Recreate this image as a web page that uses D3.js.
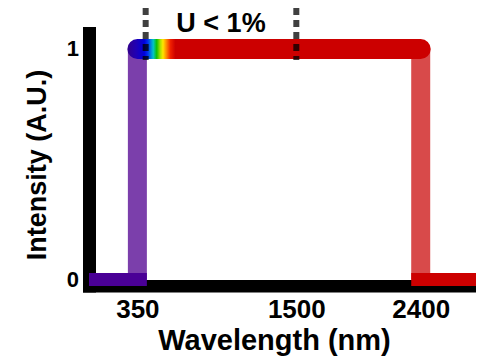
<!DOCTYPE html>
<html>
<head>
<meta charset="utf-8">
<script src="https://cdn.jsdelivr.net/npm/d3@7"></script>
<style>
  html, body { margin: 0; padding: 0; background: #fff; overflow: hidden; }
  svg { display: block; }
  text { font-family: 'Liberation Sans', Arial, sans-serif; font-weight: bold; fill: #000; }
</style>
</head>
<body>
<script>
'use strict';

// spectrum outline (wavelength in nm, normalised intensity)
const wavelengths = [0, 350, 350, 2400, 2400, 2800];
const intensities = [0, 0, 1, 1, 0, 0];
const segmentColors = ['#4a0096', '#7b3fab', 'url(#spectrum)', '#d84a4a', '#cc0000'];

// visible part of the top edge
const gradientNm = [280, 340, 400, 425, 465, 490, 515, 535, 560, 590, 625];
const gradientColors = ['#32008c', '#2000b4', '#0000da', '#0030f0', '#00c4c8', '#10c000', '#a8e000', '#ffe600', '#ff8a00', '#f02000', '#cc0000'];

const xTicks = [350, 1500, 2400];
const yTicks = [0, 1];
const markerNm = [410, 1500];
const markerLabel = 'U < 1%';

const W = 483, H = 359;
const svg = d3.select('body').append('svg').attr('width', W).attr('height', H);

const x = d3.scaleLinear().domain([0, 2800]).range([89, 476]);
const y = d3.scaleLinear().domain([0, 1]).range([279.5, 49]);

const grad = svg.append('defs').append('linearGradient')
    .attr('id', 'spectrum')
    .attr('gradientUnits', 'userSpaceOnUse')
    .attr('x1', x(gradientNm[0])).attr('x2', x(gradientNm[gradientNm.length - 1]))
    .attr('y1', 0).attr('y2', 0);
grad.selectAll('stop').data(gradientNm).enter().append('stop')
    .attr('offset', d => (d - gradientNm[0]) / (gradientNm[gradientNm.length - 1] - gradientNm[0]))
    .attr('stop-color', (d, i) => gradientColors[i]);

// thick black axis bars
svg.append('line')
    .attr('x1', 89.5).attr('x2', 89.5)
    .attr('y1', y(1) - 22).attr('y2', y(0) + 13)
    .attr('stroke', '#000').attr('stroke-width', 13);
svg.append('line')
    .attr('x1', x(0) - 6).attr('x2', x(2800))
    .attr('y1', 286.25).attr('y2', 286.25)
    .attr('stroke', '#000').attr('stroke-width', 12.5);

// segments of the outline
const segs = d3.range(wavelengths.length - 1).map(i => ({
  x1 : wavelengths[i], y1 : intensities[i],
  x2 : wavelengths[i + 1], y2 : intensities[i + 1],
  color : segmentColors[i],
  vertical : wavelengths[i] === wavelengths[i + 1],
  top : intensities[i] === 1 && intensities[i + 1] === 1
}));
const vw = 19; // width of the vertical edges

function drawSeg(sel) {
  // bottom pieces reach under the vertical edges
  sel.append('line')
      .attr('x1', d => x(d.x1) + (!d.vertical && !d.top && d.x1 > 0 ? -vw / 2 : 0))
      .attr('x2', d => x(d.x2) + (!d.vertical && !d.top && d.x1 === 0 ? vw / 2 : 0))
      .attr('y1', d => y(d.y1))
      .attr('y2', d => y(d.y2))
      .attr('stroke', d => d.color)
      .attr('stroke-width', d => d.vertical ? vw : (d.top ? 20 : 13))
      .attr('stroke-linecap', d => d.top ? 'round' : 'butt');
}
const outline = svg.append('g');
outline.selectAll('g.v').data(segs.filter(d => d.vertical)).enter().append('g').classed('v', true).call(drawSeg);
outline.selectAll('g.b').data(segs.filter(d => !d.vertical && !d.top)).enter().append('g').classed('b', true).call(drawSeg);
outline.selectAll('g.t').data(segs.filter(d => d.top)).enter().append('g').classed('t', true).call(drawSeg);

// dotted markers
svg.selectAll('line.marker').data(markerNm).enter().append('line')
    .classed('marker', true)
    .attr('x1', d => x(d)).attr('x2', d => x(d))
    .attr('y1', 8).attr('y2', 60)
    .attr('stroke', '#000').attr('stroke-opacity', 0.75)
    .attr('stroke-width', 6).attr('stroke-dasharray', '7 5');
svg.append('text')
    .attr('x', (x(markerNm[0]) + x(markerNm[1])) / 2)
    .attr('y', 32)
    .attr('text-anchor', 'middle')
    .style('font-size', '27px')
    .text(markerLabel);

// axes (labels only, bars drawn above)
const xAxis = svg.append('g')
    .attr('transform', 'translate(0,286.25)')
    .call(d3.axisBottom(x).tickValues(xTicks).tickFormat(d3.format('d')).tickSize(0).tickPadding(13));
xAxis.select('.domain').remove();
xAxis.selectAll('text').style('font-size', '26px').attr('font-family', null);

const yAxis = svg.append('g')
    .attr('transform', 'translate(89.5,0)')
    .call(d3.axisLeft(y).tickValues(yTicks).tickFormat(d3.format('d')).tickSize(0).tickPadding(10.5));
yAxis.select('.domain').remove();
yAxis.selectAll('text').style('font-size', '22px').attr('dy', '0.3em').attr('font-family', null);

svg.append('text')
    .attr('x', 274.5).attr('y', 350)
    .attr('text-anchor', 'middle')
    .style('font-size', '29px')
    .text('Wavelength (nm)');

svg.append('text')
    .attr('transform', 'translate(46,165) rotate(-90)')
    .attr('text-anchor', 'middle')
    .style('font-size', '27px')
    .text('Intensity (A.U.)');
</script>
</body>
</html>
